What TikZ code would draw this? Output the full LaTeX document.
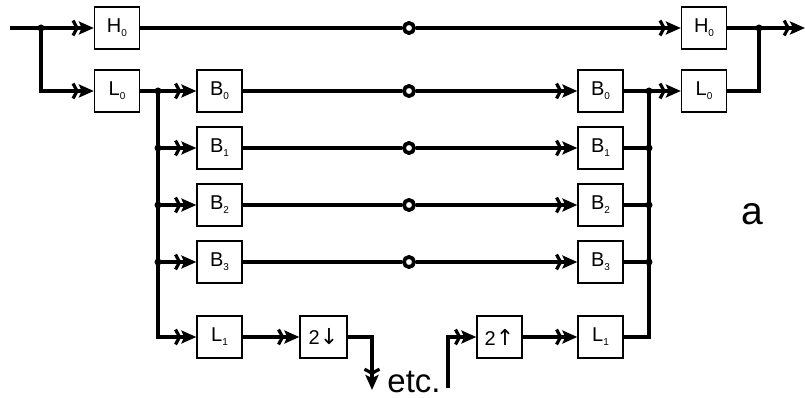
\documentclass[tikz,border=0pt]{standalone}
\usepackage{fontspec}
\setmainfont{Liberation Sans}
\newfontfamily\djv{DejaVu Sans}
\usetikzlibrary{arrows.meta}
\newcommand\bxlab[2]{#1\raisebox{-4pt}{\fontsize{10}{10}\selectfont #2}}
\begin{document}
\begin{tikzpicture}[x=1pt,y=-1pt,
  box/.style={draw,line width=1.3pt,minimum width=45pt,minimum height=42pt,inner sep=0pt,font=\fontsize{20}{20}\selectfont},
  wire/.style={line width=3.2pt},
  arr/.style={wire,-{Straight Barb[length=4pt,width=15pt] Stealth[length=15pt,width=13pt,inset=3pt]}},
  dot/.style={circle,fill,inner sep=0pt,minimum size=7pt},
  ring/.style={circle,draw,fill=white,line width=3.6pt,inner sep=0pt,minimum size=10pt}]
\useasboundingbox (0,0) rectangle (805,398);
% boxes
\node[box] (H0L) at (117,28) {\bxlab{H}{0}};
\node[box] (L0L) at (117,91) {\bxlab{L}{0}};
\node[box] (H0R) at (704,28) {\bxlab{H}{0}};
\node[box] (L0R) at (704,91) {\bxlab{L}{0}};
\foreach \i/\y in {0/91,1/148,2/205,3/262}{
  \node[box] (BL\i) at (219.5,\y) {\bxlab{B}{\i}};
  \node[box] (BR\i) at (600.5,\y) {\bxlab{B}{\i}};
  \coordinate (bl\i) at (158,\y);
  \coordinate (br\i) at (649,\y);
}
\node[box] (L1L) at (219.5,337) {\bxlab{L}{1}};
\node[box] (L1R) at (600.5,337) {\bxlab{L}{1}};
\node[box,minimum width=47pt] (D) at (323.5,337) {2{\djv\fontsize{22}{22}\selectfont ↓}};
\node[box,minimum width=45pt] (U) at (499.5,337) {2{\djv\fontsize{22}{22}\selectfont ↑}};
% coordinates
\coordinate (in) at (10,28);
\coordinate (j1) at (41,28);
\coordinate (j2) at (759,28);
\coordinate (out) at (805,28);
\coordinate (dn) at (372,390);
\coordinate (up) at (448,388);
% rings
\node[ring] (c0) at (409,28) {};
\foreach \i/\y in {0/91,1/148,2/205,3/262}{
  \node[ring] (c\i m) at (409,\y) {};
}
% input side
\draw[wire] (in) -- (j1);
\draw[arr] (j1) -- (H0L.west);
\draw[arr] (j1) |- (L0L.west);
\draw[wire] (L0L.east) -- (bl0);
\draw[arr] (bl0) |- (L1L.west);
\foreach \i in {0,1,2,3}{
  \draw[arr] (bl\i) -- (BL\i.west);
  \draw[wire] (BL\i.east) -- (c\i m);
  \draw[arr] (c\i m) -- (BR\i.west);
  \draw[wire] (BR\i.east) -- (br\i);
}
\draw[wire] (H0L.east) -- (c0);
\draw[arr] (c0) -- (H0R.west);
% output side
\draw[wire] (L1R.east) -| (br0);
\draw[arr] (br0) -- (L0R.west);
\draw[wire] (L0R.east) -| (j2);
\draw[wire] (H0R.east) -- (j2);
\draw[arr] (j2) -- (out);
% lower branch
\draw[arr] (L1L.east) -- (D.west);
\draw[arr] (D.east) -| (dn);
\draw[arr] (up) |- (U.west);
\draw[arr] (U.east) -- (L1R.west);
% redraw rings on top
\node[ring] at (c0) {};
\foreach \i in {0,1,2,3}{\node[ring] at (c\i m) {};}
% dots
\foreach \p in {j1,j2,bl0,bl1,bl2,bl3,br0,br1,br2,br3}{\node[dot] at (\p) {};}
% labels
\node[anchor=base,font=\fontsize{33}{33}\selectfont,inner sep=0pt] (etc) at (414,392) {etc.};
\node[anchor=base,font=\fontsize{39}{39}\selectfont,inner sep=0pt] (a) at (752,224) {a};
\end{tikzpicture}
\end{document}
